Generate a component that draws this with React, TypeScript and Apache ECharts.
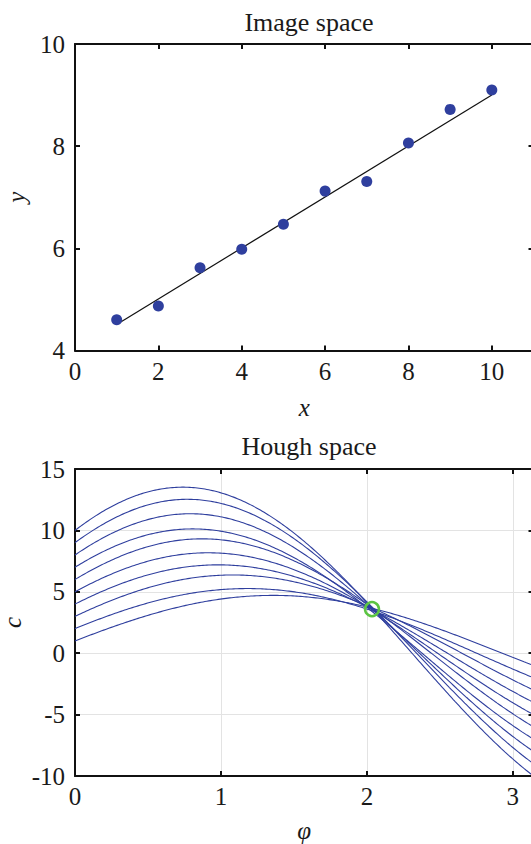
import React, { useEffect, useRef } from "react";
import * as echarts from "echarts";

// Image-space data points
const pointX = [1, 2, 3, 4, 5, 6, 7, 8, 9, 10];
const pointY = [4.6, 4.87, 5.62, 5.98, 6.47, 7.12, 7.31, 8.06, 8.72, 9.1];
// Detected line (from Hough peak)
const lineX = [1, 10];
const lineY = [4.51, 9.0];
// Hough peak
const peakPhi = 2.035;
const peakC = 3.59;
// Tick labels / axis ranges
const imgXTicks = [0, 2, 4, 6, 8, 10];
const imgYTicks = [4, 6, 8, 10];
const houghXTicks = [0, 1, 2, 3];
const houghYTicks = [-10, -5, 0, 5, 10, 15];

const FONT = "'Liberation Serif', 'DejaVu Serif', serif";
const TXT = "#1a1a1a";
const BLUE = "#2f3f9e";

export default function App() {
  const ref = useRef<HTMLDivElement>(null);
  useEffect(() => {
    if (!ref.current) return;
    const chart = echarts.init(ref.current, undefined, { renderer: "svg" });

    // Hough transform of each data point: c = x cos(phi) + y sin(phi)
    const N = 240;
    const phis: number[] = [];
    for (let k = 0; k <= N; k++) phis.push((Math.PI * k) / N);
    const curves = pointX.map((x, i) =>
      phis.map((p) => [p, x * Math.cos(p) + pointY[i] * Math.sin(p)])
    );

    const axisLine = { show: true, onZero: false, lineStyle: { color: "#111", width: 2 } };
    const tick = { show: true, inside: true, length: 5, lineStyle: { color: "#111", width: 2 } };
    const label = { color: TXT, fontFamily: FONT, fontSize: 25 };
    const nameStyle = { color: TXT, fontFamily: FONT, fontSize: 25, fontStyle: "italic" as const, lineHeight: 22 };
    const gridSplit = { show: true, lineStyle: { color: "#e3e3e3", width: 1 } };
    const intFmt = (v: number) => (Math.abs(v - Math.round(v)) < 1e-9 ? String(v) : "");

    const option: any = {
      animation: false,
      backgroundColor: "#fff",
      title: [
        {
          text: "Image space",
          left: 304,
          top: 4,
          textAlign: "center",
          textStyle: { color: TXT, fontFamily: FONT, fontSize: 26, fontWeight: "normal" },
        },
        {
          text: "Hough space",
          left: 304,
          top: 428,
          textAlign: "center",
          textStyle: { color: TXT, fontFamily: FONT, fontSize: 26, fontWeight: "normal" },
        },
      ],
      grid: [
        { left: 75, top: 44, width: 458.5, height: 306.5, containLabel: false, outerBoundsMode: "none" },
        { left: 75, top: 469, width: 458.5, height: 307, containLabel: false, outerBoundsMode: "none" },
      ],
      xAxis: [
        {
          type: "value", gridIndex: 0, position: "bottom",
          min: 0, max: 11, interval: 2,
          axisLine, axisTick: tick,
          axisLabel: { ...label, margin: 8, showMaxLabel: false, formatter: (v: number) => (imgXTicks.includes(v) ? String(v) : "") },
          splitLine: { show: false },
          name: "x", nameLocation: "middle", nameGap: 46, nameTextStyle: nameStyle,
        },
        {
          type: "value", gridIndex: 0, position: "top",
          min: 0, max: 11, interval: 2,
          axisLine, axisTick: tick, axisLabel: { show: false }, splitLine: { show: false },
        },
        {
          type: "value", gridIndex: 1, position: "bottom",
          min: 0, max: Math.PI, interval: 1,
          axisLine, axisTick: tick,
          axisLabel: { ...label, margin: 8, showMaxLabel: false, formatter: (v: number) => (houghXTicks.includes(v) ? String(v) : "") },
          splitLine: gridSplit,
          name: "φ", nameLocation: "middle", nameGap: 43, nameTextStyle: nameStyle,
        },
        {
          type: "value", gridIndex: 1, position: "top",
          min: 0, max: Math.PI, interval: 1,
          axisLine, axisTick: tick, axisLabel: { show: false }, splitLine: { show: false },
        },
      ],
      yAxis: [
        {
          type: "value", gridIndex: 0, position: "left",
          min: 4, max: 10, interval: 2,
          axisLine, axisTick: tick,
          axisLabel: { ...label, margin: 10, formatter: (v: number) => (imgYTicks.includes(v) ? String(v) : "") },
          splitLine: { show: false },
          name: "y", nameLocation: "middle", nameGap: 46, nameRotate: 90, nameTextStyle: nameStyle,
        },
        {
          type: "value", gridIndex: 0, position: "right",
          min: 4, max: 10, interval: 2,
          axisLine, axisTick: tick, axisLabel: { show: false }, splitLine: { show: false },
        },
        {
          type: "value", gridIndex: 1, position: "left",
          min: -10, max: 15, interval: 5,
          axisLine, axisTick: tick,
          axisLabel: { ...label, margin: 10, formatter: (v: number) => (houghYTicks.includes(v) ? intFmt(v) : "") },
          splitLine: gridSplit,
          name: "c", nameLocation: "middle", nameGap: 52, nameRotate: 90, nameMoveOverlap: false, nameTextStyle: nameStyle,
        },
        {
          type: "value", gridIndex: 1, position: "right",
          min: -10, max: 15, interval: 5,
          axisLine, axisTick: tick, axisLabel: { show: false }, splitLine: { show: false },
        },
      ],
      series: [
        {
          type: "line", xAxisIndex: 0, yAxisIndex: 0,
          data: lineX.map((x, i) => [x, lineY[i]]),
          showSymbol: false, symbol: "none",
          lineStyle: { color: "#111", width: 1.2 },
          z: 2,
        },
        {
          type: "scatter", xAxisIndex: 0, yAxisIndex: 0,
          data: pointX.map((x, i) => [x, pointY[i]]),
          symbol: "circle", symbolSize: 11,
          itemStyle: { color: BLUE, opacity: 1 },
          z: 3,
        },
        ...curves.map((c) => ({
          type: "line", xAxisIndex: 2, yAxisIndex: 2,
          data: c, showSymbol: false, symbol: "none",
          lineStyle: { color: BLUE, width: 1.1 },
          z: 2,
        })),
        {
          type: "scatter", xAxisIndex: 2, yAxisIndex: 2,
          data: [[peakPhi, peakC]],
          symbol: "circle", symbolSize: 14,
          itemStyle: { color: "rgba(0,0,0,0)", borderColor: "#5cc443", borderWidth: 2.5, opacity: 1 },
          z: 5,
        },
      ],
    };
    chart.setOption(option);
    return () => chart.dispose();
  }, []);

  return (
    <div
      ref={ref}
      style={{ position: "fixed", left: 0, top: 0, width: 531, height: 844, background: "#fff" }}
    />
  );
}
